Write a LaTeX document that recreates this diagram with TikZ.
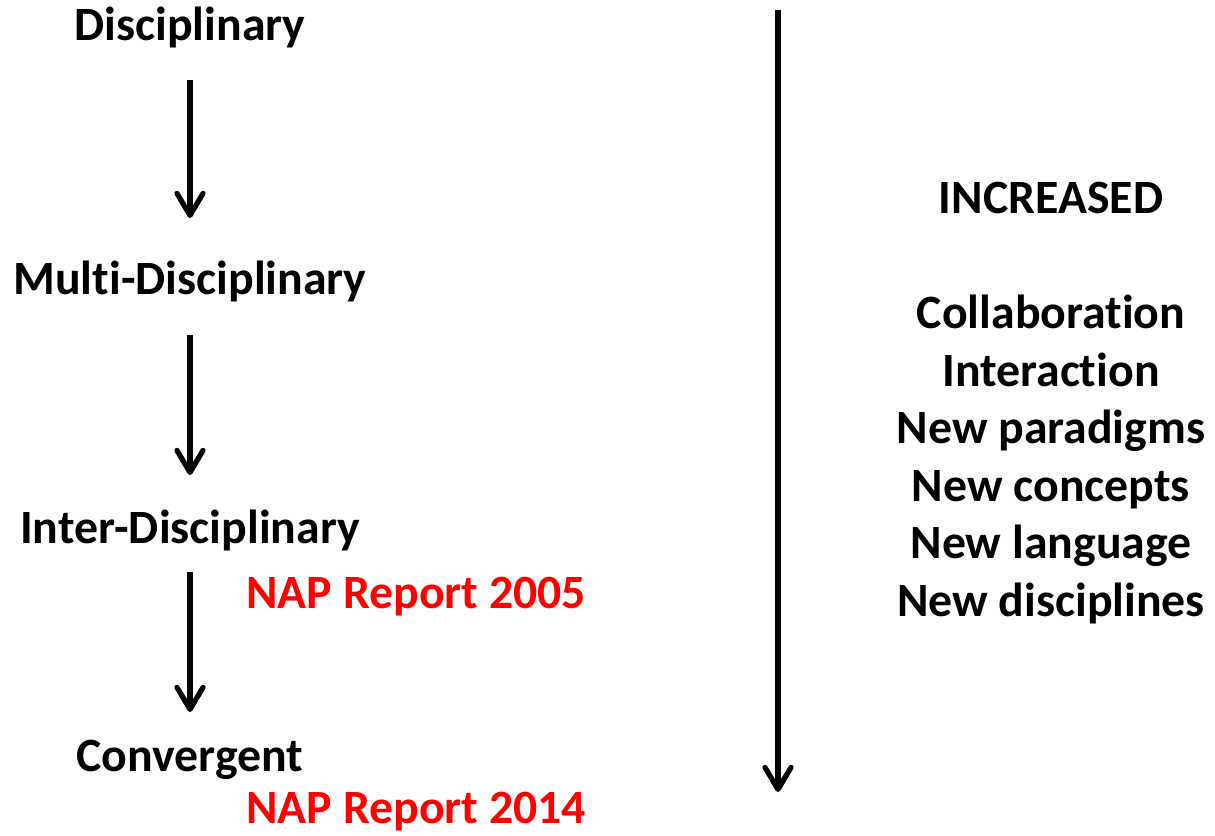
\documentclass[tikz,border=0pt]{standalone}
\usepackage{fontspec}
\setmainfont{Carlito}[Ligatures=NoCommon]
\usetikzlibrary{arrows.meta}

\begin{document}
\begin{tikzpicture}[x=0.5pt,y=-0.5pt]
\tikzset{every node/.style={inner sep=0pt,font=\fontsize{23.9}{28}\selectfont\bfseries},
  stage/.style={anchor=base},
  nap/.style={anchor=base west,text=red},
  gain/.style={anchor=base},
  flow/.style={line width=2.6pt,-{Straight Barb[length=11pt,width=13pt,round]}}}
\useasboundingbox (0,0) rectangle (1215,835);
% left column
\node [stage] (disc) at (190,40) {Disciplinary};
\node [stage] (multi) at (190,294) {Multi-Disciplinary};
\node [stage] (inter) at (190,543) {Inter-Disciplinary};
\node [nap] (nap05) at (246,608) {NAP Report 2005};
\node [stage] (conv) at (190,771) {Convergent};
\node [nap] (nap14) at (246,823) {NAP Report 2014};
\draw [flow,shorten <=20pt,shorten >=38pt] (disc.base) -- (multi.base);
\draw [flow,shorten <=20.5pt,shorten >=34pt] (multi.base) -- (inter.base);
\draw [flow,shorten <=14.5pt,shorten >=29.5pt] (inter.base) -- (conv.base);
% long arrow
\coordinate (top) at (778,10);
\coordinate (bottom) at (778,792);
\draw [flow] (top) -- (bottom);
% right column
\node [gain] (incr) at (1051,213) {INCREASED};
\node [gain] (collab) at (1051,328) {Collaboration};
\node [gain] (interact) at (1051,386) {Interaction};
\node [gain] (para) at (1051,443) {New paradigms};
\node [gain] (conc) at (1051,501) {New concepts};
\node [gain] (lang) at (1051,558) {New language};
\node [gain] (newdisc) at (1051,616) {New disciplines};
\end{tikzpicture}
\end{document}
